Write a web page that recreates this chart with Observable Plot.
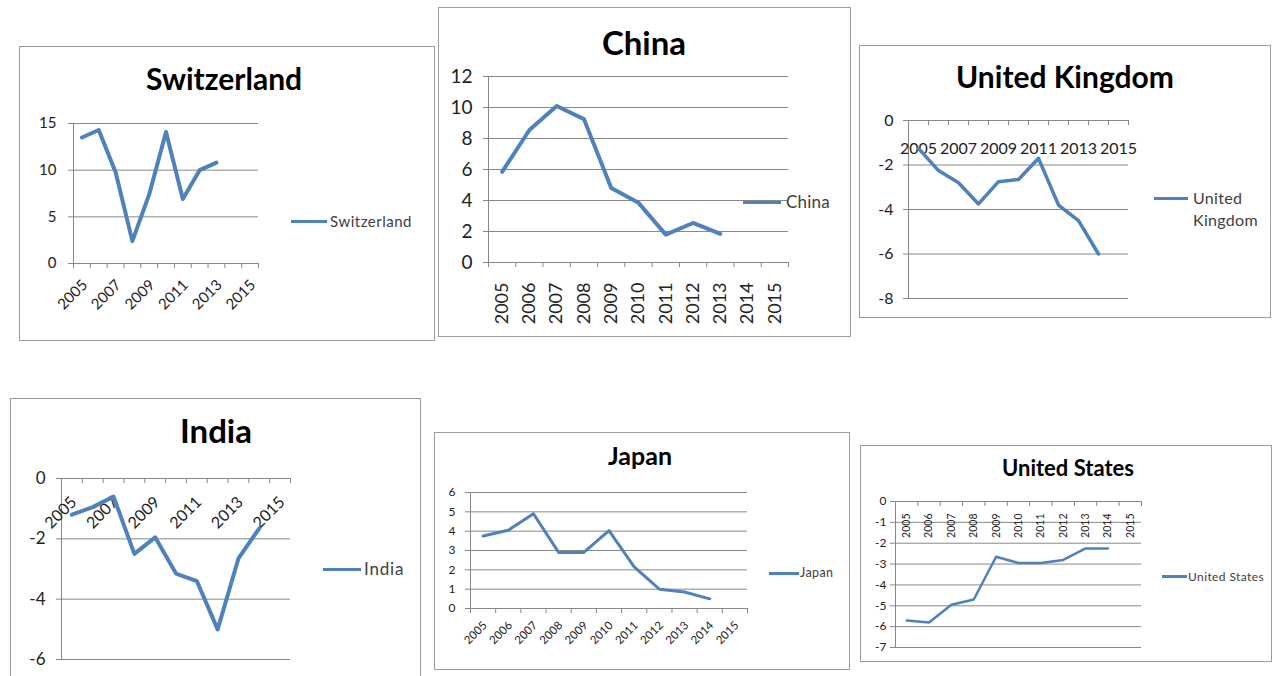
<!DOCTYPE html>
<html><head><meta charset="utf-8">
<script src="https://cdn.jsdelivr.net/npm/d3@7"></script>
<script src="https://cdn.jsdelivr.net/npm/@observablehq/plot@0.6"></script>
<style>
body{margin:0;background:#fff;}
#page{position:relative;width:1273px;height:676px;overflow:hidden;background:#fff;font-family:Lato,"Open Sans",sans-serif;}
.panel{position:absolute;border:1px solid #9d9d9d;box-sizing:border-box;background:#fff;}
.title{position:absolute;font-weight:bold;color:#000;white-space:nowrap;line-height:1;transform:translateX(-50%);}
.swatch{position:absolute;background:#4F81BD;}
.legtext{position:absolute;color:#404040;}
#page svg{position:absolute;}
</style></head><body><div id="page"></div>
<script>
// ---- data ----
const years = [2005, 2006, 2007, 2008, 2009, 2010, 2011, 2012, 2013, 2014, 2015];
const oddYears = [2005, 2007, 2009, 2011, 2013, 2015];
const countries = ["Switzerland", "China", "United Kingdom", "India", "Japan", "United States"];
const switzerland   = [13.5, 14.3, 9.8, 2.4, 7.4, 14.1, 6.9, 10.0, 10.8, null, null];
const china         = [5.85, 8.55, 10.1, 9.25, 4.8, 3.85, 1.8, 2.55, 1.85, null, null];
const unitedKingdom = [-1.25, -2.25, -2.8, -3.75, -2.75, -2.65, -1.7, -3.8, -4.5, -6.0, null];
const india         = [-1.2, -0.95, -0.6, -2.5, -1.95, -3.15, -3.4, -5.0, -2.65, -1.65, null];
const japan         = [3.75, 4.05, 4.9, 2.9, 2.9, 4.03, 2.15, 1.0, 0.85, 0.5, null];
const unitedStates  = [-5.7, -5.8, -4.95, -4.7, -2.65, -2.95, -2.95, -2.8, -2.25, -2.25, null];
const ticksSwitzerland = [0, 5, 10, 15];
const ticksChina = [0, 2, 4, 6, 8, 10, 12];
const ticksUK = [-8, -6, -4, -2, 0];
const ticksIndia = [-6, -4, -2, 0];
const ticksJapan = [0, 1, 2, 3, 4, 5, 6];
const ticksUS = [-7, -6, -5, -4, -3, -2, -1, 0];

// ---- layout ----
const FONT = "Lato, 'Open Sans', sans-serif";
const BLUE = "#4F81BD", GRID = "#888888", AXIS = "#868686", TEXT = "#222";
const boundaries = [...years.map(y => y - 0.5), years[years.length - 1] + 0.5];

const panels = [
  {name: countries[0], values: switzerland, yTicks: ticksSwitzerland, labels: oddYears,
   frame: [19, 46, 435, 341], plot: [73, 258, 123, 263], rot: -45, anchor: "end", xFont: 15, yFont: 15, ypad: 12, ldx: 3, ldy: 19,
   title: {cx: 224, base: 90, fs: 30}, legend: {x0: 291, x1: 327, y: 221, tx: 330, fs: 15, ls: 0.5, w: 130}, sw: 4},
  {name: countries[1], values: china, yTicks: ticksChina, labels: years,
   frame: [438, 7, 851, 337], plot: [488, 788, 76, 262], rot: -90, anchor: "end", xFont: 18, yFont: 19, ypad: 11, ldx: 0, ldy: 20,
   title: {cx: 644, base: 55, fs: 33}, legend: {x0: 743, x1: 781, y: 202, tx: 786, fs: 17, ls: 0.2, w: 80}, sw: 4},
  {name: countries[2], values: unitedKingdom, yTicks: ticksUK, labels: oddYears,
   frame: [859, 45, 1271, 318], plot: [908, 1128, 120, 298], rot: 0, anchor: "middle", xFont: 16, yFont: 16, ypad: 10, ldx: 0, ldy: 28,
   title: {cx: 1065, base: 88, fs: 30}, legend: {x0: 1154, x1: 1188, y: 198, tx: 1193, fs: 16, ls: 0.3, w: 70}, sw: 3.5},
  {name: countries[3], values: india, yTicks: ticksIndia, labels: oddYears,
   frame: [10, 398, 421, 690], plot: [61, 290, 478, 659], rot: -45, anchor: "end", xFont: 16, yFont: 17, ypad: 11, ldx: 2, ldy: 21,
   title: {cx: 216, base: 443, fs: 33}, legend: {x0: 323, x1: 361, y: 569, tx: 364, fs: 17, ls: 0.8, w: 80}, sw: 4},
  {name: countries[4], values: japan, yTicks: ticksJapan, labels: years,
   frame: [434, 432, 850, 670], plot: [470, 747, 492, 608], rot: -45, anchor: "end", xFont: 11.5, yFont: 12, ypad: 10, ldx: 2, ldy: 15,
   title: {cx: 640, base: 465, fs: 25}, legend: {x0: 769, x1: 799, y: 573, tx: 800, fs: 12.5, ls: 0.4, w: 60}, sw: 3},
  {name: countries[5], values: unitedStates, yTicks: ticksUS, labels: years,
   frame: [860, 445, 1272, 662], plot: [895, 1141, 501, 647], rot: -90, anchor: "end", xFont: 10.5, yFont: 12, ypad: 4, ldx: 0, ldy: 12,
   title: {cx: 1068, base: 477, fs: 22}, legend: {x0: 1162, x1: 1187, y: 576, tx: 1188, fs: 12, ls: 0.4, w: 100}, sw: 2.5}
];

const page = document.getElementById("page");

function build(p) {
  const [fl, ft, fr, fb] = p.frame;
  const [px0, px1, pyT, pyB] = p.plot;
  const W = fr - fl, H = fb - ft;

  const box = document.createElement("div");
  box.className = "panel";
  Object.assign(box.style, {left: fl + "px", top: ft + "px", width: W + "px", height: H + "px"});
  page.appendChild(box);

  const rows = years.map((year, i) => ({year, value: p.values[i]})).filter(d => d.value != null);
  const yMin = d3.min(p.yTicks), yMax = d3.max(p.yTicks);
  const tickLen = 5 * (yMax - yMin) / (pyB - pyT);

  const chart = Plot.plot({
    width: W, height: H,
    marginLeft: px0 - fl, marginRight: fr - px1, marginTop: pyT - ft, marginBottom: fb - pyB,
    x: {domain: [boundaries[0], boundaries[boundaries.length - 1]], axis: null},
    y: {domain: [yMin, yMax], label: null},
    style: {background: "transparent", fontFamily: FONT, overflow: "visible", maxWidth: "none"},
    marks: [
      Plot.ruleY(p.yTicks, {stroke: GRID, strokeWidth: 1}),
      Plot.ruleX([boundaries[0]], {stroke: AXIS, strokeWidth: 1}),
      Plot.ruleX(boundaries, {x: d => d, y1: () => 0, y2: () => -tickLen, stroke: AXIS, strokeWidth: 1}),
      Plot.axisY({ticks: p.yTicks, tickSize: 5, tickPadding: p.ypad, label: null, tickFormat: d => String(d),
                  fontSize: p.yFont, stroke: AXIS, fill: TEXT}),
      Plot.text(p.labels, {x: d => d, y: () => 0, text: d => String(d), rotate: p.rot, textAnchor: p.anchor,
                           dx: p.ldx, dy: p.ldy, fontSize: p.xFont, fill: TEXT}),
      Plot.line(rows, {x: "year", y: "value", stroke: BLUE, strokeWidth: p.sw,
                       strokeLinejoin: "round", strokeLinecap: "round"})
    ]
  });
  chart.style.left = fl + "px";
  chart.style.top = ft + "px";
  page.appendChild(chart);

  const t = document.createElement("div");
  t.className = "title";
  t.textContent = p.name;
  Object.assign(t.style, {left: p.title.cx + "px", top: (p.title.base - 0.887 * p.title.fs) + "px", fontSize: p.title.fs + "px"});
  page.appendChild(t);

  const L = p.legend;
  const sw = document.createElement("div");
  sw.className = "swatch";
  Object.assign(sw.style, {left: L.x0 + "px", top: (L.y - 1.5) + "px", width: (L.x1 - L.x0) + "px", height: "3px"});
  page.appendChild(sw);
  const lt = document.createElement("div");
  lt.className = "legtext";
  lt.textContent = p.name;
  const lh = Math.round(L.fs * 1.4);
  Object.assign(lt.style, {left: L.tx + "px", top: (L.y - lh / 2) + "px", fontSize: L.fs + "px", lineHeight: lh + "px",
                           width: L.w + "px", letterSpacing: L.ls + "px"});
  page.appendChild(lt);
}

panels.forEach(build);
</script>
</body></html>
